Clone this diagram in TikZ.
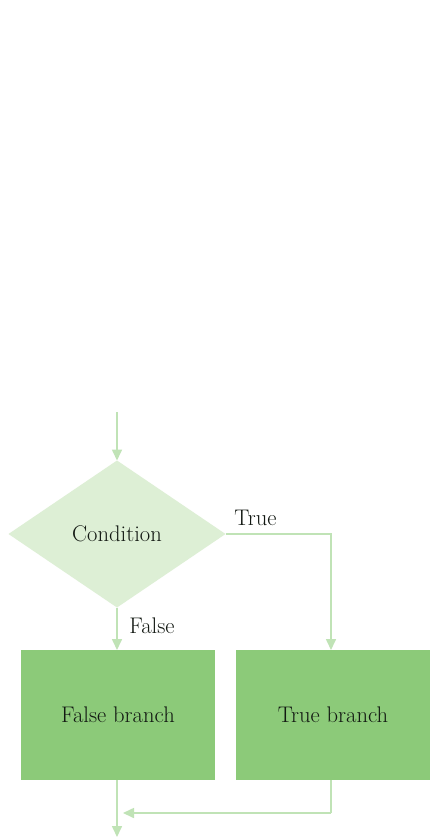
\documentclass[tikz,border=0pt]{standalone}
\usetikzlibrary{shapes.geometric,arrows.meta}
\definecolor{linegreen}{RGB}{192,227,182}
\definecolor{diamondgreen}{RGB}{221,239,213}
\definecolor{boxgreen}{RGB}{140,202,121}
\definecolor{textdark}{RGB}{18,24,18}
\begin{document}
\begin{tikzpicture}[x=1pt,y=-1pt,
  txt/.style={text=textdark, font=\fontsize{22.6}{26}\selectfont},
  conn/.style={draw=linegreen, line width=1.6pt, -{Triangle[width=10pt,length=11pt]}},
  plainconn/.style={draw=linegreen, line width=1.6pt},
  decision/.style={diamond, fill=diamondgreen, minimum width=217pt, minimum height=147pt, inner sep=0pt, outer sep=0pt, txt},
  stepbox/.style={rectangle, fill=boxgreen, minimum width=194pt, minimum height=130pt, inner sep=0pt, outer sep=0pt, txt},
  lbl/.style={txt, anchor=base, inner sep=0pt}]
\useasboundingbox[fill=white] (0,0) rectangle (430,837);

\coordinate (start) at (117,412);
\node[decision] (cond) at (117,534) {Condition};
\node[stepbox] (fb) at (118,715) {False branch};
\node[stepbox] (tb) at (333,715) {True branch};
\coordinate (c1) at (331,534);
\coordinate (c2) at (331,813);
\coordinate (c3) at (117,813);
\coordinate (finish) at (117,837);

\node[lbl] (truelbl) at (255.5,525) {True};
\node[lbl] (falselbl) at (152,633) {False};

\draw[conn] (start) -- (cond.north);
\draw[conn] (cond.south) -- (cond.south |- fb.north);
\draw[conn] (cond.east) -- (c1) -- (c1 |- tb.north);
\draw[plainconn] (c1 |- tb.south) -- (c2);
\draw[conn, shorten >=6pt] (c2) -- (c3);
\draw[conn] (cond.south |- fb.south) -- (finish);
\end{tikzpicture}
\end{document}
